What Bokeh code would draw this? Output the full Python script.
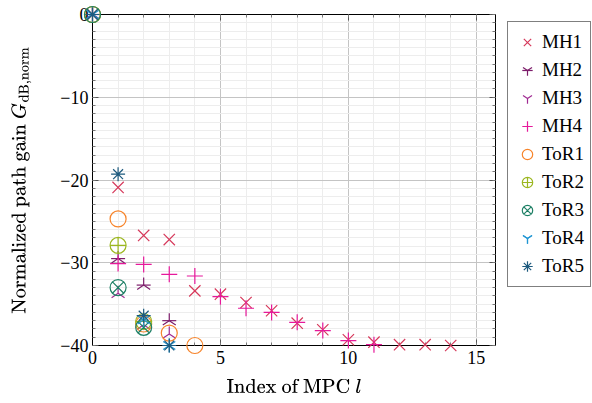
from bokeh.plotting import figure
from bokeh.layouts import row
from bokeh.models import Legend, LegendItem, LinearAxis, SingleIntervalTicker, Range1d, CustomJSTickFormatter
from bokeh.embed import file_html
from bokeh.resources import INLINE
import math

# ---- data ----
mh1_x = [0, 1, 2, 3, 4, 5, 6, 7, 8, 9, 10, 11, 12, 13, 14]
mh1_y = [0, -20.9, -26.7, -27.2, -33.4, -33.8, -34.8, -35.8, -37.3, -38.1, -39.3, -39.6, -39.9, -39.9, -40.0]
mh2_x = [0, 1, 2, 3]
mh2_y = [0, -29.5, -32.7, -37.0]
mh3_x = [0, 1, 2, 3]
mh3_y = [0, -33.7, -37.5, -38.6]
mh4_x = [0, 1, 2, 3, 4, 5, 6, 7, 8, 9, 10, 11]
mh4_y = [0, -30.1, -30.2, -31.4, -31.6, -34.1, -35.5, -36.0, -37.2, -38.2, -39.4, -39.9]
tor1_x = [0, 1, 2, 3, 4]
tor1_y = [0, -24.7, -37.4, -38.5, -40.0]
tor2_x = [0, 1, 2]
tor2_y = [0, -27.9, -37.1]
tor3_x = [0, 1, 2]
tor3_y = [0, -33.0, -37.8]
tor4_x = [0, 2, 3]
tor4_y = [0, -36.9, -40.0]
tor5_x = [0, 1, 2, 3]
tor5_y = [0, -19.3, -36.4, -40.0]

series_names = ["MH1", "MH2", "MH3", "MH4", "ToR1", "ToR2", "ToR3", "ToR4", "ToR5"]

y_ticks = [-40, -30, -20, -10, 0]
y_tick_labels = ["−40", "−30", "−20", "−10", "0"]
x_ticks = [0, 5, 10, 15]
x_tick_labels = ["0", "5", "10", "15"]

FONT = "Liberation Serif"
FS = "18px"

W_MAIN, W_LEG, H = 500, 92, 403

p = figure(width=W_MAIN, height=H,
           x_range=Range1d(0, 15.75), y_range=Range1d(-40, 0),
           output_backend="svg", toolbar_location=None,
           min_border_left=92, min_border_top=14, min_border_bottom=58,
           min_border_right=5)
p.background_fill_color = "white"
p.border_fill_color = "white"
p.outline_line_color = "black"
p.outline_line_width = 1

xt = SingleIntervalTicker(interval=5, num_minor_ticks=5)
yt = SingleIntervalTicker(interval=10, num_minor_ticks=10)
p.xaxis.ticker = xt
p.yaxis.ticker = yt
p.xaxis.major_label_overrides = {t: l for t, l in zip(x_ticks, x_tick_labels)}
p.yaxis.major_label_overrides = {t: l for t, l in zip(y_ticks, y_tick_labels)}

for ax in (p.xaxis[0], p.yaxis[0]):
    ax.major_tick_in = 6
    ax.major_tick_out = 0
    ax.minor_tick_in = 3
    ax.minor_tick_out = 0
    ax.major_tick_line_color = "#555555"
    ax.minor_tick_line_color = "#777777"
    ax.axis_line_color = "black"
    ax.major_label_text_font = FONT
    ax.major_label_text_font_size = FS
    ax.major_label_text_color = "black"
    ax.axis_label_text_font = FONT
    ax.axis_label_text_font_size = FS
    ax.axis_label_text_font_style = "normal"
    ax.axis_label_text_color = "black"

p.xaxis.major_label_standoff = 5
p.yaxis.major_label_standoff = 4
p.xaxis.axis_label = r"Index of MPC $$l$$"
p.yaxis.axis_label = r"Normalized path gain $$G_{\mathrm{dB,norm}}$$"
p.xaxis.axis_label_standoff = 12
p.yaxis.axis_label_standoff = 26

blank = CustomJSTickFormatter(code="return ''")
top = LinearAxis(ticker=xt, formatter=blank, major_tick_in=6, major_tick_out=0,
                 minor_tick_in=3, minor_tick_out=0, major_label_standoff=0,
                 major_tick_line_color="#555555", minor_tick_line_color="#777777")
right = LinearAxis(ticker=yt, formatter=blank, major_tick_in=6, major_tick_out=0,
                   minor_tick_in=3, minor_tick_out=0, major_label_standoff=0,
                   major_tick_line_color="#555555", minor_tick_line_color="#777777")
p.add_layout(top, "above")
p.add_layout(right, "right")

p.xgrid.ticker = xt
p.ygrid.ticker = yt
for g in (p.xgrid[0], p.ygrid[0]):
    g.grid_line_color = "#c4c4c4"
    g.grid_line_width = 1
    g.minor_grid_line_color = "#ededed"
    g.minor_grid_line_width = 1

LW = 1.2
colors = ["#d6395b", "#7d1d6b", "#a02a92", "#e6199b", "#f7842a",
          "#9cb720", "#1f8066", "#2196d3", "#1d5a7e"]


def draw(fig, xs_list, ys_list, level):
    """Draw all nine series on fig; returns list of renderer lists."""
    out = []
    c = colors
    (x1, y1), (x2, y2), (x3, y3), (x4, y4), (x5, y5), (x6, y6), (x7, y7), (x8, y8), (x9, y9) = zip(xs_list, ys_list)
    out.append([fig.scatter(x1, y1, marker="x", size=16, line_color=c[0], line_width=LW, level=level)])
    out.append([fig.scatter(x2, y2, marker="y", angle=math.pi, size=15, line_color=c[1], line_width=LW, level=level),
                fig.scatter(x2, y2, marker="dash", size=14, line_color=c[1], line_width=LW, level=level)])
    out.append([fig.scatter(x3, y3, marker="y", angle=math.pi, size=15, line_color=c[2], line_width=LW, level=level)])
    out.append([fig.scatter(x4, y4, marker="cross", size=16, line_color=c[3], line_width=LW, level=level)])
    out.append([fig.scatter(x5, y5, marker="circle", size=16, line_color=c[4], fill_alpha=0, line_width=LW, level=level)])
    out.append([fig.scatter(x6, y6, marker="circle_cross", size=16, line_color=c[5], fill_alpha=0, line_width=LW, level=level)])
    out.append([fig.scatter(x7, y7, marker="circle_x", size=16, line_color=c[6], fill_alpha=0, line_width=LW, level=level)])
    out.append([fig.scatter(x8, y8, marker="y", size=14, line_color=c[7], line_width=LW, level=level),
                fig.scatter(x8, y8, marker="y", angle=math.pi, size=14, line_color=c[7], line_width=LW, level=level)])
    out.append([fig.scatter(x9, y9, marker="asterisk", size=14, line_color=c[8], line_width=LW, level=level)])
    return out


all_x = [mh1_x, mh2_x, mh3_x, mh4_x, tor1_x, tor2_x, tor3_x, tor4_x, tor5_x]
all_y = [mh1_y, mh2_y, mh3_y, mh4_y, tor1_y, tor2_y, tor3_y, tor4_y, tor5_y]
draw(p, all_x, all_y, "annotation")

# ---- legend panel: separate figure; its ranges keep the series' marks out of view ----
q = figure(width=W_LEG, height=H, x_range=Range1d(1000, 1001), y_range=Range1d(1000, 1001),
           output_backend="svg", toolbar_location=None,
           x_axis_type=None, y_axis_type=None,
           min_border_left=0, min_border_right=0, min_border_top=8, min_border_bottom=0)
q.outline_line_color = None
q.xgrid.visible = False
q.ygrid.visible = False
q.border_fill_color = "white"
q.background_fill_color = "white"
leg_rs = draw(q, all_x, all_y, "glyph")
items = [LegendItem(label=n, renderers=rs, index=0) for n, rs in zip(series_names, leg_rs)]

legend = Legend(items=items, location="top_left", orientation="vertical")
legend.label_text_font = FONT
legend.label_text_font_size = "19px"
legend.label_text_color = "black"
legend.glyph_width = 26
legend.glyph_height = 28
legend.label_height = 28
legend.label_standoff = 2
legend.spacing = 0
legend.padding = 6
legend.margin = 7
legend.border_line_color = "black"
legend.border_line_width = 1
legend.background_fill_alpha = 1
q.add_layout(legend, "center")

open("out.html", "w").write(file_html(row(p, q), INLINE))
